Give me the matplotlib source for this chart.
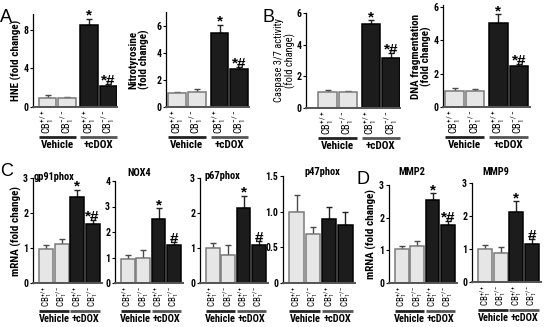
import matplotlib
matplotlib.use('Agg')
import matplotlib.pyplot as plt

plt.rcParams['font.family'] = ['Roboto Condensed', 'DejaVu Sans']
plt.rcParams['mathtext.fontset'] = 'custom'
plt.rcParams['mathtext.rm'] = 'Roboto Condensed'
plt.rcParams['mathtext.default'] = 'regular'

W, H = 545, 327

groups = ['Vehicle', '+cDOX']
tick_labels = [r'CB$_1^{+/+}$', r'CB$_1^{-/-}$', r'CB$_1^{+/+}$', r'CB$_1^{-/-}$']

# top row
hne = [0.95, 0.88, 8.5, 2.15]
hne_err = [0.25, 0.15, 0.6, 0.2]
nitro = [1.0, 1.1, 5.45, 2.82]
nitro_err = [0.12, 0.2, 0.62, 0.15]
casp = [1.0, 1.0, 5.33, 3.18]
casp_err = [0.12, 0.06, 0.2, 0.28]
dna = [0.98, 0.95, 5.0, 2.48]
dna_err = [0.13, 0.12, 0.56, 0.1]

# bottom row
gp91 = [0.98, 1.11, 2.45, 1.69]
gp91_err = [0.1, 0.14, 0.21, 0.12]
nox4 = [0.96, 1.0, 2.5, 1.5]
nox4_err = [0.13, 0.3, 0.43, 0.1]
p67 = [1.0, 0.8, 2.15, 1.08]
p67_err = [0.15, 0.28, 0.35, 0.12]
p47 = [1.0, 0.68, 0.9, 0.81]
p47_err = [0.23, 0.11, 0.17, 0.19]
mmp2 = [1.03, 1.14, 2.53, 1.78]
mmp2_err = [0.1, 0.14, 0.22, 0.13]
mmp9 = [1.01, 0.88, 2.12, 1.16]
mmp9_err = [0.12, 0.17, 0.32, 0.15]

light = '#e6e6e6'
dark = '#1c1c1c'

fig = plt.figure(figsize=(W / 100, H / 100), dpi=100)


def panel(px, vals, errs, ylim, yticks, ytl, xlim, pos, marks, ylabel=None,
          ylab_x=None, title=None, title_xy=None, ylab_bold=True, lab_dy=0,
          ylab_fs=8, grp_fs=8, tick_fs=7.5):
    x0, x1, yb, yt = px
    ax = fig.add_axes([x0 / W, (H - yb) / H, (x1 - x0) / W, (yb - yt) / H])
    cols = [light, light, dark, dark]
    edges = ['#7a7a7a', '#7a7a7a', '#000000', '#000000']
    for i in range(4):
        ax.bar(pos[i], vals[i], width=0.9, color=cols[i], edgecolor=edges[i],
               linewidth=1.1, zorder=2)
        ecol = '#4a4a4a' if i < 2 else '#222222'
        ax.errorbar(pos[i], vals[i], yerr=[[0], [errs[i]]], fmt='none',
                    ecolor=ecol, elinewidth=1.0, capsize=2.2, capthick=1.0,
                    zorder=1)
    ax.set_xlim(*xlim)
    ax.set_ylim(*ylim)
    ax.set_yticks(yticks)
    ax.set_yticklabels(ytl, fontsize=7, fontweight='bold')
    ax.tick_params(axis='y', length=2, width=0.8, pad=1.5)
    ax.set_xticks(pos)
    ax.set_xticklabels(tick_labels, rotation=90, fontsize=tick_fs)
    ax.tick_params(axis='x', length=0, pad=2)
    for s in ['top', 'right']:
        ax.spines[s].set_visible(False)
    ax.spines['left'].set_linewidth(0.9)
    ax.spines['bottom'].set_linewidth(1.4)
    ax.spines['bottom'].set_color('#555555')
    tr = ax.get_xaxis_transform()
    ly = -(30 + lab_dy) / (yb - yt)
    ty = -(33 + lab_dy) / (yb - yt)
    for g, (a, b) in enumerate([(pos[0], pos[1]), (pos[2], pos[3])]):
        lc = '#222222' if g == 0 else '#555555'
        ax.plot([a - 0.45, b + 0.45], [ly, ly], color=lc, lw=2.0,
                transform=tr, clip_on=False, solid_capstyle='butt')
        ax.text((a + b) / 2, ty, groups[g], transform=tr, ha='center',
                va='top', fontsize=grp_fs, fontweight='bold')
    span = ylim[1] - ylim[0]
    for i, m in enumerate(marks):
        if m:
            ax.text(pos[i], vals[i] + errs[i] - 0.01 * span, m, ha='center',
                    va='baseline', fontsize=11, fontweight='bold',
                    family=['Liberation Sans'])
    if ylabel:
        ax.set_ylabel(ylabel, fontsize=ylab_fs,
                      fontweight='bold' if ylab_bold else 'normal',
                      linespacing=1.0)
        ax.yaxis.set_label_coords((ylab_x - x0) / (x1 - x0), 0.5)
    if title:
        fig.text(title_xy[0] / W, (H - title_xy[1]) / H, title, ha='center',
                 va='center', fontsize=7.5, fontweight='bold')
    return ax


top_pos = [0, 1, 2.15, 3.15]
bot_pos = [0, 1, 2, 3]
m_top = ['', '', '*', '*#']

panel((33, 117, 107, 14), hne, hne_err, (0, 9.6), [0, 4, 8], ['0', '4', '8'],
      (-0.77, 3.6), top_pos, m_top, ylabel='HNE (fold change)', ylab_x=22)
panel((166, 249, 107, 12), nitro, nitro_err, (0, 7), [0, 2, 4, 6],
      ['0', '2', '4', '6'], (-0.56, 3.64), top_pos, m_top,
      ylabel='Nitrotyrosine\n(fold change)', ylab_x=150)
panel((306, 400, 108, 13), casp, casp_err, (0, 6), [0, 2, 4, 6],
      ['0', '2', '4', '6'], (-1.07, 3.6), top_pos, m_top,
      ylabel='Caspase 3/7 activity\n(fold change)', ylab_x=296,
      ylab_bold=False, ylab_fs=7.5)
panel((443, 530, 107, 5), dna, dna_err, (0, 6.1), [0, 2, 4, 6],
      ['0', '2', '4', '6'], (-0.57, 3.7), top_pos, m_top,
      ylabel='DNA fragmentation\n(fold change)', ylab_x=432)

bl = (-0.85, 3.6)
bot_kw = dict(lab_dy=-2, grp_fs=7.5, tick_fs=6.5)
panel((33, 102, 283, 178), gp91, gp91_err, (0, 3), [0, 1, 2, 3],
      ['0', '1', '2', '3'], bl, bot_pos, ['', '', '*', '*#'],
      ylabel='mRNA (fold change)', ylab_x=22, title='gp91phox',
      title_xy=(54, 177), **bot_kw)
panel((115, 183, 283, 181), nox4, nox4_err, (0, 4), [0, 1, 2, 3, 4],
      ['0', '1', '2', '3', '4'], bl, bot_pos, ['', '', '*', '#'],
      title='NOX4', title_xy=(139, 173), **bot_kw)
panel((200, 268, 283, 178), p67, p67_err, (0, 3), [0, 1, 2, 3],
      ['0', '1', '2', '3'], bl, bot_pos, ['', '', '*', '#'],
      title='p67phox', title_xy=(222, 176), **bot_kw)
panel((283, 355, 283, 176), p47, p47_err, (0, 1.5), [0, 0.5, 1.0, 1.5],
      ['0', '0.5', '1.0', '1.5'], bl, bot_pos, ['', '', '', ''],
      title='p47phox', title_xy=(322, 172), **bot_kw)
panel((389, 457, 283, 185), mmp2, mmp2_err, (0, 3), [0, 1, 2, 3],
      ['0', '1', '2', '3'], bl, bot_pos, ['', '', '*', '*#'],
      ylabel='mRNA (fold change)', ylab_x=377, title='MMP2',
      title_xy=(412, 172), **bot_kw)
panel((472, 541, 282, 183), mmp9, mmp9_err, (0, 3), [0, 1, 2, 3],
      ['0', '1', '2', '3'], bl, bot_pos, ['', '', '*', '#'],
      title='MMP9', title_xy=(496, 172), **bot_kw)

for letter, x, y in [('A', 0, 18), ('B', 262, 18), ('C', 0, 171), ('D', 357, 179)]:
    fig.text(x / W, (H - y) / H, letter, fontsize=13, ha='left', va='center',
             family=['Liberation Sans'])

fig.savefig('out.png', dpi=100)
